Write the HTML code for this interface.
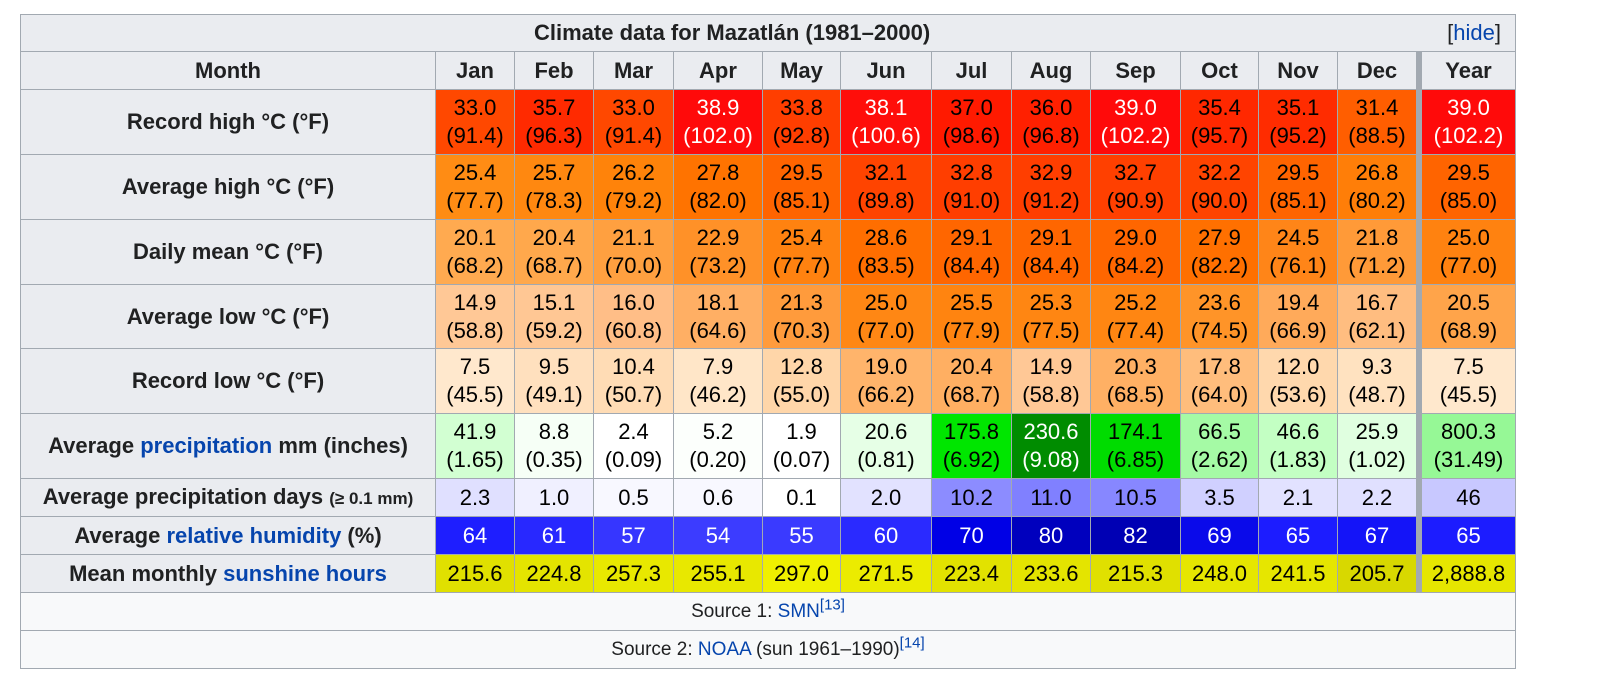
<!DOCTYPE html>
<html><head><meta charset="utf-8"><style>
body{margin:0;width:1600px;height:697px;background:#fff;font-family:"Liberation Sans",Arial,sans-serif;color:#202122;position:relative;overflow:hidden}
.c{position:absolute;box-sizing:border-box;border:1px solid #a2a9b1;display:flex;align-items:center;justify-content:center;text-align:center;font-size:22px;line-height:28px}
.h{background:#eaecf0;font-weight:bold}
a{color:#0645ad;text-decoration:none}
sup{font-size:15px;line-height:0;vertical-align:super}
</style></head><body>
<div id="t"></div>
<script>
const months=["Jan","Feb","Mar","Apr","May","Jun","Jul","Aug","Sep","Oct","Nov","Dec","Year"];
const recHigh=["33.0<br>(91.4)","35.7<br>(96.3)","33.0<br>(91.4)","38.9<br>(102.0)","33.8<br>(92.8)","38.1<br>(100.6)","37.0<br>(98.6)","36.0<br>(96.8)","39.0<br>(102.2)","35.4<br>(95.7)","35.1<br>(95.2)","31.4<br>(88.5)","39.0<br>(102.2)"];
const avgHigh=["25.4<br>(77.7)","25.7<br>(78.3)","26.2<br>(79.2)","27.8<br>(82.0)","29.5<br>(85.1)","32.1<br>(89.8)","32.8<br>(91.0)","32.9<br>(91.2)","32.7<br>(90.9)","32.2<br>(90.0)","29.5<br>(85.1)","26.8<br>(80.2)","29.5<br>(85.0)"];
const mean=["20.1<br>(68.2)","20.4<br>(68.7)","21.1<br>(70.0)","22.9<br>(73.2)","25.4<br>(77.7)","28.6<br>(83.5)","29.1<br>(84.4)","29.1<br>(84.4)","29.0<br>(84.2)","27.9<br>(82.2)","24.5<br>(76.1)","21.8<br>(71.2)","25.0<br>(77.0)"];
const avgLow=["14.9<br>(58.8)","15.1<br>(59.2)","16.0<br>(60.8)","18.1<br>(64.6)","21.3<br>(70.3)","25.0<br>(77.0)","25.5<br>(77.9)","25.3<br>(77.5)","25.2<br>(77.4)","23.6<br>(74.5)","19.4<br>(66.9)","16.7<br>(62.1)","20.5<br>(68.9)"];
const recLow=["7.5<br>(45.5)","9.5<br>(49.1)","10.4<br>(50.7)","7.9<br>(46.2)","12.8<br>(55.0)","19.0<br>(66.2)","20.4<br>(68.7)","14.9<br>(58.8)","20.3<br>(68.5)","17.8<br>(64.0)","12.0<br>(53.6)","9.3<br>(48.7)","7.5<br>(45.5)"];
const precip=["41.9<br>(1.65)","8.8<br>(0.35)","2.4<br>(0.09)","5.2<br>(0.20)","1.9<br>(0.07)","20.6<br>(0.81)","175.8<br>(6.92)","230.6<br>(9.08)","174.1<br>(6.85)","66.5<br>(2.62)","46.6<br>(1.83)","25.9<br>(1.02)","800.3<br>(31.49)"];
const pdays=["2.3","1.0","0.5","0.6","0.1","2.0","10.2","11.0","10.5","3.5","2.1","2.2","46"];
const hum=["64","61","57","54","55","60","70","80","82","69","65","67","65"];
const sun=["215.6","224.8","257.3","255.1","297.0","271.5","223.4","233.6","215.3","248.0","241.5","205.7","2,888.8"];
const cRecHigh=["#ff4800","#ff2a00","#ff4800","#ff0a0a","#ff3e00","#ff0e0a","#ff1a00","#ff2000","#ff0a0a","#ff2800","#ff2c00","#ff5e00","#ff0a0a"];
const cAvgHigh=["#ff8c14","#ff8810","#ff830a","#ff7300","#ff6400","#ff4400","#ff3e00","#ff3e00","#ff4000","#ff4400","#ff6400","#ff7e08","#ff6400"];
const cMean=["#ffaa50","#ffa84c","#ffa040","#ff9128","#ff8210","#ff6e00","#ff6600","#ff6600","#ff6600","#ff7000","#ff8518","#ff9a38","#ff8210"];
const cAvgLow=["#ffc896","#ffc794","#ffbe87","#ffaf64","#ff9b3c","#ff8714","#ff8410","#ff8612","#ff8612","#ff9428","#ffaa5a","#ffbd80","#ffa44a"];
const cRecLow=["#ffe8cd","#ffe0be","#ffdcb5","#ffe6c8","#ffd6a9","#ffb46b","#ffaf62","#ffc896","#ffb064","#ffbd7c","#ffd8ad","#ffe2c0","#ffe8cd"];
const cPrecip=["#d2ffd2","#f6fff6","#ffffff","#fcfffc","#ffffff","#e6ffe6","#00e600","#008c00","#00dc00","#a5faa5","#c3ffc3","#e0ffe0","#96f896"];
const cPdays=["#e0e0ff","#f0f0ff","#f8f8ff","#f8f8ff","#ffffff","#e2e2ff","#8c8cff","#8080ff","#8787ff","#d0d0ff","#e2e2ff","#e0e0ff","#c8c8ff"];
const cHum=["#1e1eff","#2828ff","#3636ff","#3c3cff","#3a3aff","#2a2aff","#0000e6","#0000be","#0000b4","#0a0aea","#1c1cff","#1414f8","#1c1cff"];
const cSun=["#e0e000","#e4e400","#e8e800","#e8e800","#f0f000","#ebeb00","#e2e200","#e4e400","#e0e000","#e6e600","#e6e600","#d8d800","#e6e600"];
const rows=[
 ["Record high °C (°F)",recHigh,cRecHigh,[3,5,8,12]],
 ["Average high °C (°F)",avgHigh,cAvgHigh,[]],
 ["Daily mean °C (°F)",mean,cMean,[]],
 ["Average low °C (°F)",avgLow,cAvgLow,[]],
 ["Record low °C (°F)",recLow,cRecLow,[]],
 ['Average <a>precipitation</a> mm (inches)',precip,cPrecip,[7]],
 ['Average precipitation days <span style="font-size:17px">(≥ 0.1 mm)</span>',pdays,cPdays,[]],
 ['Average <a>relative humidity</a> (%)',hum,cHum,[0,1,2,3,4,5,6,7,8,9,10,11,12]],
 ['Mean monthly <a>sunshine hours</a>',sun,cSun,[]]
];
const xs=[435,514,593,673,762,840,931,1011,1090,1180,1258,1337,1421,1515];
const ys=[14,51,89,154,219,284,348,413,478,516,554,592,630,668];
const T=document.getElementById('t');
function cell(x,y,w,h,html,cls,bg,col){
 const d=document.createElement('div');
 d.className='c'+(cls?' '+cls:'');
 d.style.left=x+'px';d.style.top=y+'px';d.style.width=(w+1)+'px';d.style.height=(h+1)+'px';
 if(bg)d.style.background=bg;if(col)d.style.color=col;
 d.innerHTML='<span>'+html+'</span>';T.appendChild(d);return d;
}
let d=cell(20,ys[0],1495,ys[1]-ys[0],'<span style="position:absolute;left:513px;top:4px">Climate data for Mazatlán (1981–2000)</span><span style="position:absolute;right:14px;top:4px;font-weight:normal">[<a>hide</a>]</span>','h');


d=cell(20,ys[1],415,ys[2]-ys[1],'Month','h');


months.forEach((m,i)=>{
 const x=xs[i],w=(i==11?1416:xs[i+1])-x;
 const e=cell(x,ys[1],w,ys[2]-ys[1],m,'h');
 
 
});
rows.forEach((r,ri)=>{
 const y=ys[ri+2],h=ys[ri+3]-y;
 const l=cell(20,y,415,h,r[0],'h');
 
 
 r[1].forEach((v,i)=>{
  const x=xs[i],w=(i==11?1416:xs[i+1])-x;
  const e=cell(x,y,w,h,v,'',r[2][i],r[3].includes(i)?'#fff':'#000');
  
  
 });
});
const sep=document.createElement('div');
sep.style.cssText='position:absolute;left:1416px;top:51px;width:5px;height:541px;background:#a2a9b1';


T.appendChild(sep);
d=cell(20,ys[11],1495,ys[12]-ys[11],'Source 1: <a>SMN</a><sup><a>[13]</a></sup>','', '#f8f9fa');
d.style.fontSize='19px';


d=cell(20,ys[12],1495,ys[13]-ys[12],'Source 2: <a>NOAA</a> (sun 1961–1990)<sup><a>[14]</a></sup>','', '#f8f9fa');
d.style.fontSize='19px';


</script>
</body></html>
